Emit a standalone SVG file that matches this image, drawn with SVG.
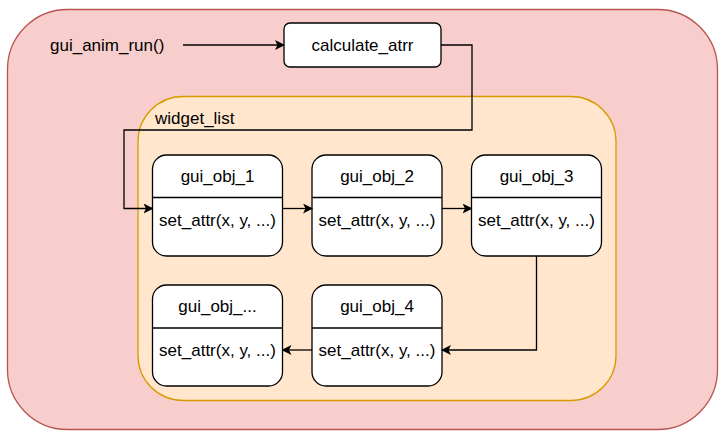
<svg xmlns="http://www.w3.org/2000/svg" width="725" height="439" viewBox="0 0 725 439">
<defs>
<marker id="arr" viewBox="0 0 10 10" refX="9" refY="5" markerWidth="10" markerHeight="10" markerUnits="userSpaceOnUse" orient="auto">
<path d="M0,0 L10,5 L0,10 L2.5,5 Z" fill="#000"/>
</marker>
<style>
text{font-family:"Liberation Sans",Arial,sans-serif;font-size:17px;fill:#000}
.c{text-anchor:middle;dominant-baseline:central}
.box{fill:#fff;stroke:#000;stroke-width:1.3}
.line{stroke:#000;stroke-width:1.3;fill:none}
.conn{stroke:#000;stroke-width:1.3;fill:none;marker-end:url(#arr)}
</style>
</defs>
<g id="outer">
<rect x="7.5" y="9.5" width="710" height="420" rx="60" fill="#f8cecc" stroke="#b85450" stroke-width="1.3"/>
</g>
<g id="widget_list">
<rect x="138" y="96.5" width="478" height="304" rx="45" fill="#ffe6cc" stroke="#d79b00" stroke-width="1.3"/>
<text x="155" y="118" dominant-baseline="central">widget_list</text>
</g>
<g id="gui_anim_run">
<text x="50" y="45" dominant-baseline="central">gui_anim_run()</text>
</g>
<g id="calculate_atrr">
<rect class="box" x="284" y="23" width="157" height="44" rx="6"/>
<text class="c" x="362.5" y="45">calculate_atrr</text>
</g>
<g id="gui_obj_1">
<rect class="box" x="152.5" y="155" width="130" height="101" rx="14"/>
<line class="line" x1="152.5" y1="197.5" x2="282.5" y2="197.5"/>
<text class="c" x="217.5" y="176">gui_obj_1</text>
<text class="c" x="217.5" y="220">set_attr(x, y, ...)</text>
</g>
<g id="gui_obj_2">
<rect class="box" x="312" y="155" width="130" height="101" rx="14"/>
<line class="line" x1="312" y1="197.5" x2="442" y2="197.5"/>
<text class="c" x="377" y="176">gui_obj_2</text>
<text class="c" x="377" y="220">set_attr(x, y, ...)</text>
</g>
<g id="gui_obj_3">
<rect class="box" x="471.5" y="155" width="130" height="101" rx="14"/>
<line class="line" x1="471.5" y1="197.5" x2="601.5" y2="197.5"/>
<text class="c" x="536.5" y="176">gui_obj_3</text>
<text class="c" x="536.5" y="220">set_attr(x, y, ...)</text>
</g>
<g id="gui_obj_4">
<rect class="box" x="312" y="285" width="130" height="101" rx="14"/>
<line class="line" x1="312" y1="328" x2="442" y2="328"/>
<text class="c" x="377" y="306">gui_obj_4</text>
<text class="c" x="377" y="350">set_attr(x, y, ...)</text>
</g>
<g id="gui_obj_n">
<rect class="box" x="152.5" y="285" width="130" height="101" rx="14"/>
<line class="line" x1="152.5" y1="328" x2="282.5" y2="328"/>
<text class="c" x="217.5" y="306">gui_obj_...</text>
<text class="c" x="217.5" y="350">set_attr(x, y, ...)</text>
</g>
<g id="connectors">
<path class="conn" d="M183,45 L284,45"/>
<path class="conn" d="M441,45 L472,45 L472,130 L124,130 L124,208.5 L152.5,208.5"/>
<path class="conn" d="M282.5,208.5 L312,208.5"/>
<path class="conn" d="M442,208.5 L471.5,208.5"/>
<path class="conn" d="M536.5,256 L536.5,350 L442,350"/>
<path class="conn" d="M312,350 L282.5,350"/>
</g>
</svg>
